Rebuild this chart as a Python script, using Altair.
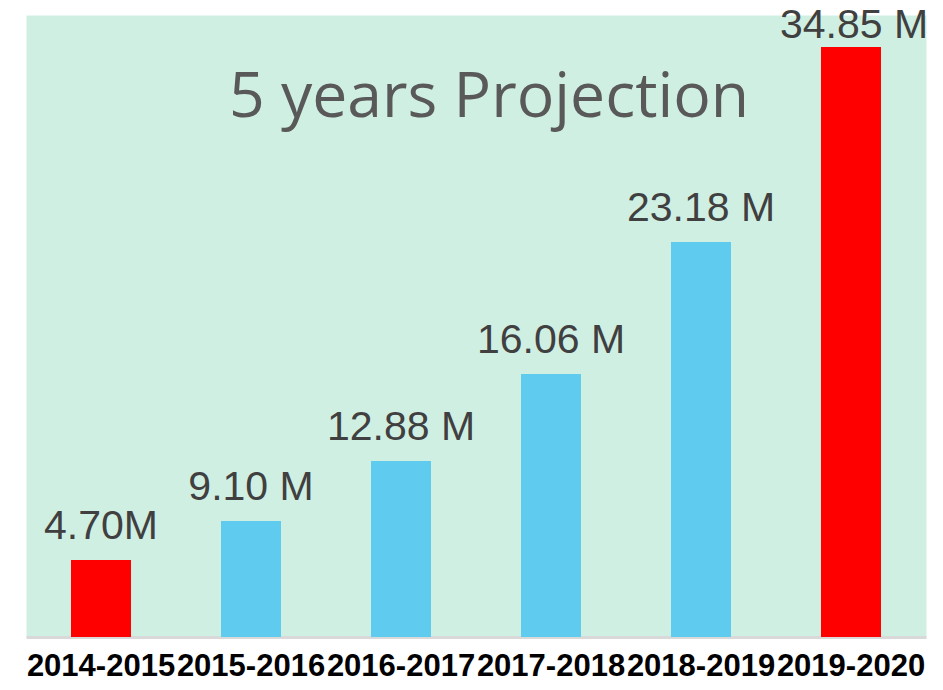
import altair as alt
import pandas as pd

periods = ["2014-2015", "2015-2016", "2016-2017", "2017-2018", "2018-2019", "2019-2020"]
bar_values = [4.55, 6.85, 10.40, 15.53, 23.33, 34.85]
labels = ["4.70M", "9.10 M", "12.88 M", "16.06 M", "23.18 M", "34.85 M"]
highlight = ["2014-2015", "2019-2020"]
last_period = "2019-2020"
y_max = 36.74
title_text = "5 years Projection"

df = pd.DataFrame({"period": periods, "value": bar_values, "label": labels})

x = alt.X(
    "period:N",
    sort=periods,
    scale=alt.Scale(paddingInner=0.6, paddingOuter=0.3),
    axis=alt.Axis(
        title=None,
        labelAngle=0,
        labelFont="Liberation Sans",
        labelFontSize=31,
        labelFontWeight="bold",
        labelColor="#000000",
        labelPadding=14,
        ticks=False,
        domainColor="#D9D9D9",
        domainWidth=3,
        labelOverlap=False,
        labelLimit=0,
    ),
)
y = alt.Y("value:Q", scale=alt.Scale(domain=[0, y_max], nice=False, zero=True), axis=None)

bars = alt.Chart(df).mark_bar().encode(
    x=x,
    y=y,
    color=alt.condition(
        alt.FieldOneOfPredicate(field="period", oneOf=highlight),
        alt.value("#FF0000"),
        alt.value("#5FCBEF"),
    ),
)

text_style = dict(font="Liberation Sans", fontSize=41, color="#404040", baseline="alphabetic", align="center")

text_main = alt.Chart(df).transform_filter(
    alt.datum.period != last_period
).mark_text(dy=-21, **text_style).encode(x=x, y=y, text="label:N")

text_last = alt.Chart(df).transform_filter(
    alt.datum.period == last_period
).mark_text(dy=-9, dx=3, **text_style).encode(x=x, y=y, text="label:N")

chart = alt.layer(bars, text_main, text_last).properties(
    width=900,
    height=622,
    autosize="none",
    padding={"left": 18, "top": 7, "right": 9, "bottom": 45},
    title=alt.TitleParams(
        title_text,
        font="Open Sans",
        fontSize=62.5,
        fontWeight="normal",
        color="#595959",
        anchor="middle",
        baseline="alphabetic",
        offset=0,
        dx=13,
        dy=175,
    ),
).configure(background="#FFFFFF").configure_view(fill="#D0EFE3", stroke="transparent")

chart.save("out.html", embed_options={"renderer": "svg", "actions": False})
